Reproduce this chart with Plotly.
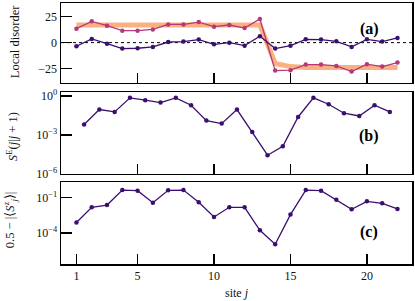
import plotly.graph_objects as go

sites = list(range(1, 23))
bond_sites = [j + 0.5 for j in range(1, 22)]

# panel (a): local disorder
disorder_target = [16.8, 16.8, 16.8, 16.8, 16.8, 16.8, 16.8, 16.8, 16.8, 16.8, 16.8, 16.8, 17.0,
                   -20.0, -23.0, -23.8, -23.8, -23.8, -23.8, -23.8, -23.8, -23.8]
disorder_h = [13.4, 20.4, 16.2, 11.5, 11.5, 12.7, 17.5, 17.5, 19.7, 15.3, 16.9, 14.0, 22.6,
              -26.8, -26.4, -21.0, -21.0, -22.3, -27.7, -20.7, -22.9, -19.1]
disorder_eff = [-3.5, 3.5, -1.0, -5.7, -5.4, -4.1, 0.6, 1.0, 2.9, -1.6, 0.0, -2.9, 6.1,
                -5.7, -2.9, 3.2, 2.9, 1.3, -4.1, 3.2, 1.0, 4.5]

# panel (b): entanglement S^E(j|j+1), log10 values
log_SE = [-2.20, -1.05, -1.23, -0.15, -0.33, -0.51, -0.15, -0.72, -1.90, -2.13, -1.05,
          -2.77, -4.56, -3.87, -1.62, -0.15, -0.64, -1.33, -1.54, -0.72, -1.23]
# panel (c): 0.5 - |<S^z_j>|, log10 values
log_Sz = [-3.10, -1.81, -1.62, -0.36, -0.41, -1.42, -0.38, -0.36, -1.39, -2.63, -1.81,
          -1.81, -3.75, -4.93, -2.43, -0.36, -0.41, -1.17, -1.98, -1.31, -1.48, -1.95]

SE = [10 ** v for v in log_SE]
Sz = [10 ** v for v in log_Sz]

purple = "#3b0f70"
magenta = "#b73779"
orange = "rgba(250,150,85,0.75)"
FONT = "Liberation Serif"
TXT = "#111"

fig = go.Figure()
fig.add_trace(go.Scatter(x=sites, y=disorder_target, mode="lines",
                         line=dict(color=orange, width=5), xaxis="x", yaxis="y"))
fig.add_trace(go.Scatter(x=sites, y=disorder_h, mode="lines+markers",
                         line=dict(color=magenta, width=1.3), marker=dict(size=4.5, color=magenta),
                         xaxis="x", yaxis="y"))
fig.add_trace(go.Scatter(x=sites, y=disorder_eff, mode="lines+markers",
                         line=dict(color=purple, width=1.3), marker=dict(size=4.5, color=purple),
                         xaxis="x", yaxis="y"))
fig.add_trace(go.Scatter(x=bond_sites, y=SE, mode="lines+markers",
                         line=dict(color=purple, width=1.3), marker=dict(size=4.5, color=purple),
                         xaxis="x2", yaxis="y2"))
fig.add_trace(go.Scatter(x=sites, y=Sz, mode="lines+markers",
                         line=dict(color=purple, width=1.3), marker=dict(size=4.5, color=purple),
                         xaxis="x3", yaxis="y3"))

xcommon = dict(range=[-0.01, 22.95], showline=True, linecolor="black", linewidth=1.5,
               mirror=True, ticks="inside", ticklen=10, tickwidth=1.5, tickcolor="black",
               showgrid=False, zeroline=False, automargin=False,
               tickfont=dict(family=FONT, size=12, color=TXT))
ycommon = dict(showline=True, linecolor="black", linewidth=1.5, mirror=True,
               ticks="inside", ticklen=11, tickwidth=1.5, tickcolor="black",
               showgrid=False, zeroline=False, automargin=False,
               tickfont=dict(family=FONT, size=12, color=TXT))

fig.update_layout(
    template="none",
    width=415, height=301,
    margin=dict(l=61, r=3, t=3, b=37, autoexpand=False),
    paper_bgcolor="white", plot_bgcolor="white",
    showlegend=False,
    hovermode=False,
    xaxis=dict(xcommon, domain=[0, 1], anchor="y", tickvals=[5, 10, 15, 20], showticklabels=False),
    xaxis2=dict(xcommon, domain=[0, 1], anchor="y2", tickvals=[5, 10, 15, 20], showticklabels=False),
    xaxis3=dict(xcommon, domain=[0, 1], anchor="y3", tickvals=[1, 5, 10, 15, 20],
                ticktext=["1", "5", "10", "15", "20"]),
    yaxis=dict(ycommon, domain=[0.6935, 1.0], anchor="x", range=[-38.7, 38.0],
               tickvals=[-25, 0, 25], ticktext=["−25", "0", "25"]),
    yaxis2=dict(ycommon, domain=[0.345, 0.659], anchor="x2", type="log", range=[-6.0, 0.3],
                tickvals=[1e-6, 1e-3, 1],
                ticktext=["10<sup>−6</sup>", "10<sup>−3</sup>", "10<sup>0</sup>"]),
    yaxis3=dict(ycommon, domain=[0.0, 0.314], anchor="x3", type="log", range=[-6.6, 0.32],
                tickvals=[1e-4, 1e-1],
                ticktext=["10<sup>−4</sup>", "10<sup>−1</sup>"]),
    shapes=[dict(type="line", xref="x domain", yref="y", x0=0, x1=1, y0=0, y1=0,
                 line=dict(color="black", width=1, dash="dot"), layer="below")],
    annotations=[
        dict(text="<b>(a)</b>", xref="x domain", yref="y domain", x=0.912, y=0.81,
             showarrow=False, font=dict(family=FONT, size=16, color="black")),
        dict(text="<b>(b)</b>", xref="x2 domain", yref="y2 domain", x=0.912, y=0.46,
             showarrow=False, font=dict(family=FONT, size=16, color="black")),
        dict(text="<b>(c)</b>", xref="x3 domain", yref="y3 domain", x=0.909, y=0.39,
             showarrow=False, font=dict(family=FONT, size=16, color="black")),
        dict(text="Local disorder", xref="paper", yref="paper", x=-(61 - 15) / 352, y=(264 - 42) / 261,
             xanchor="center", yanchor="middle", textangle=-90, showarrow=False,
             font=dict(family=FONT, size=12.5, color=TXT)),
        dict(text="<i>S</i><sup>E</sup>(<i>j</i>|<i>j</i> + 1)", xref="paper", yref="paper",
             x=-(61 - 12) / 352, y=(264 - 137) / 261,
             xanchor="center", yanchor="middle", textangle=-90, showarrow=False,
             font=dict(family=FONT, size=12.5, color=TXT)),
        dict(text="0.5 − |⟨<i>S</i><sup>z</sup><sub><i>j</i></sub>⟩|", xref="paper", yref="paper",
             x=-(61 - 10) / 352, y=(264 - 220) / 261,
             xanchor="center", yanchor="middle", textangle=-90, showarrow=False,
             font=dict(family=FONT, size=12.5, color=TXT)),
        dict(text="site <i>j</i>", xref="paper", yref="paper", x=0.5, y=-(293 - 264) / 261,
             xanchor="center", yanchor="middle", showarrow=False,
             font=dict(family=FONT, size=12, color=TXT)),
    ],
)

fig.write_html("out.html", config={"displayModeBar": False, "staticPlot": True},
               post_script="document.body.style.margin='0px';document.body.style.overflow='hidden';")
